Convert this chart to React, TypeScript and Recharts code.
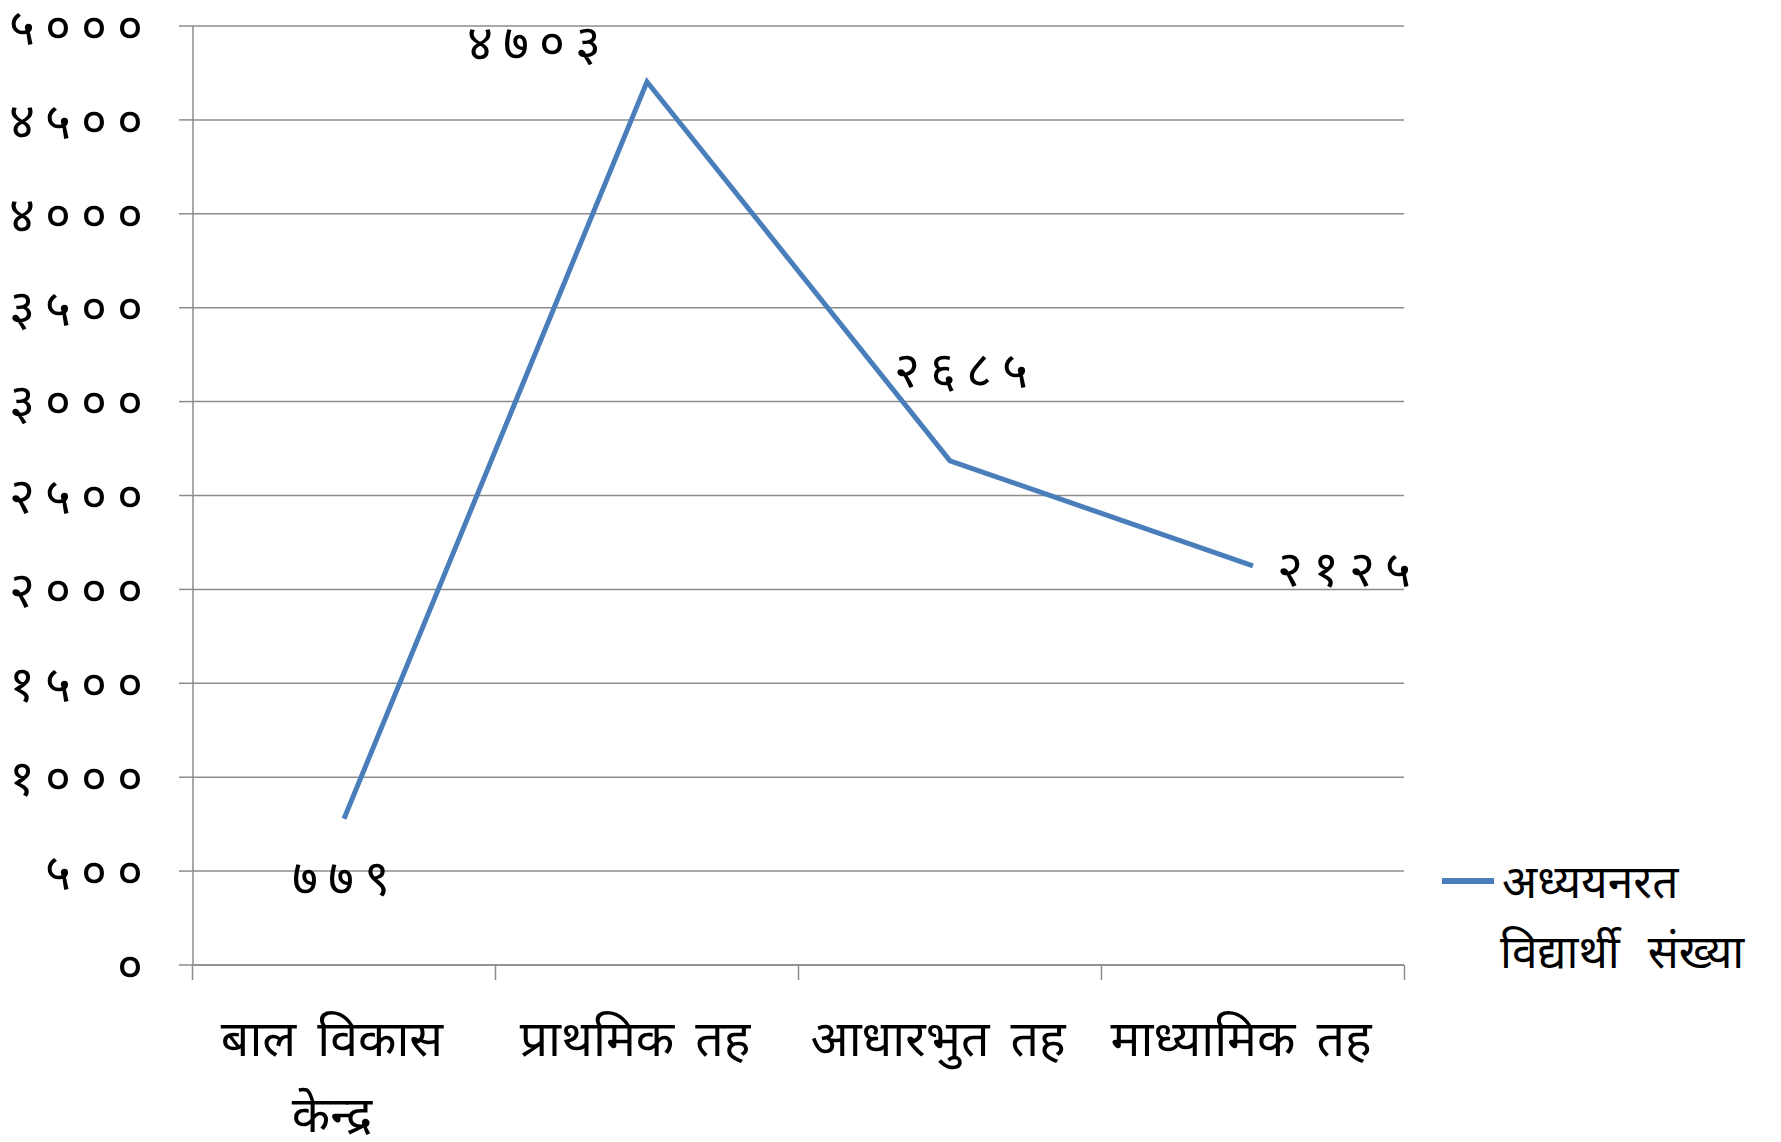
import { LineChart, Line, XAxis, YAxis, CartesianGrid, Legend } from 'recharts';

const categories = ['बाल विकास केन्द्र', 'प्राथमिक तह', 'आधारभुत तह', 'माध्यामिक तह'];
const students = [779, 4703, 2685, 2125];
const yTicks = [0, 500, 1000, 1500, 2000, 2500, 3000, 3500, 4000, 4500, 5000];
const seriesName = 'अध्ययनरत विद्यार्थी संख्या';

const data = categories.map((name, i) => ({ name, value: students[i] }));

// label placement relative to each point (dx, dy of text centre)
const LABEL_OFFSETS = [
  [2, 60],
  [-108, -38],
  [16, -90],
  [96, 4],
];

const FONT = '"Noto Sans", "DejaVu Sans", sans-serif';
const BAND = 303;

const toDeva = (n: number | string) =>
  String(n).replace(/[0-9]/g, (d) => '०१२३४५६७८९'[Number(d)]);

function CategoryTick(props: any) {
  const { x, y, payload, index } = props;
  const words = String(payload.value).split(' ');
  const lines = words.length > 2 ? [words.slice(0, 2).join(' '), words.slice(2).join(' ')] : [words.join(' ')];
  return (
    <g>
      <line x1={x - BAND / 2} y1={y} x2={x - BAND / 2} y2={y + 15} stroke="#8c8c8c" strokeWidth={1.5} />
      {index === categories.length - 1 && (
        <line x1={x + BAND / 2} y1={y} x2={x + BAND / 2} y2={y + 15} stroke="#8c8c8c" strokeWidth={1.5} />
      )}
      {lines.map((l, i) => (
        <text key={i} x={x - 12} y={y + 91 + i * 76} textAnchor="middle" fontSize={50} fontFamily={FONT} wordSpacing={8} fill="#000">
          {l}
        </text>
      ))}
    </g>
  );
}

function ValueLabel(props: any) {
  const { x, y, value, index } = props;
  const [dx, dy] = LABEL_OFFSETS[index] || [0, -20];
  return (
    <text x={x + dx} y={y + dy + 16} textAnchor="middle" fontSize={50} fontFamily={FONT} letterSpacing={10} fill="#000">
      {toDeva(value)}
    </text>
  );
}

function LegendContent() {
  return (
    <div style={{ position: 'relative', fontFamily: FONT, fontSize: 46, lineHeight: '70px', color: '#000', wordSpacing: 16 }}>
      <div style={{ position: 'absolute', left: 0, top: 33, width: 52, height: 6, background: '#4a7ebb' }} />
      <div style={{ paddingLeft: 60 }}>अध्ययनरत</div>
      <div style={{ paddingLeft: 58 }}>विद्यार्थी संख्या</div>
    </div>
  );
}

export default function App() {
  return (
    <div style={{ position: 'absolute', left: 0, top: 0, background: '#fff' }}>
      <LineChart width={1781} height={1142} data={data} margin={{ top: 26, right: 38, bottom: 0, left: 0 }}>
        <CartesianGrid vertical={false} stroke="#8c8c8c" strokeWidth={1.5} />
        <XAxis
          dataKey="name"
          padding={{ left: 151, right: 151 }}
          height={177}
          tickSize={0}
          tickMargin={0}
          tickLine={false}
          axisLine={{ stroke: '#8c8c8c', strokeWidth: 1.5 }}
          interval={0}
          tick={<CategoryTick />}
        />
        <YAxis
          width={193}
          domain={[0, 5000]}
          ticks={yTicks}
          interval={0}
          tickSize={14}
          tickMargin={26}
          tickLine={{ stroke: '#8c8c8c', strokeWidth: 1.5 }}
          axisLine={{ stroke: '#8c8c8c', strokeWidth: 1.5 }}
          tickFormatter={toDeva}
          tick={{ fontSize: 50, fontFamily: FONT, fill: '#000', letterSpacing: 10, dy: 0 }}
        />
        <Legend
          layout="vertical"
          verticalAlign="top"
          align="right"
          content={<LegendContent />}
          wrapperStyle={{ position: 'absolute', left: 1442, top: 845, width: 339 }}
        />
        <Line
          type="linear"
          dataKey="value"
          name={seriesName}
          stroke="#4a7ebb"
          strokeWidth={5}
          dot={false}
          isAnimationActive={false}
          label={<ValueLabel />}
        />
      </LineChart>
    </div>
  );
}
